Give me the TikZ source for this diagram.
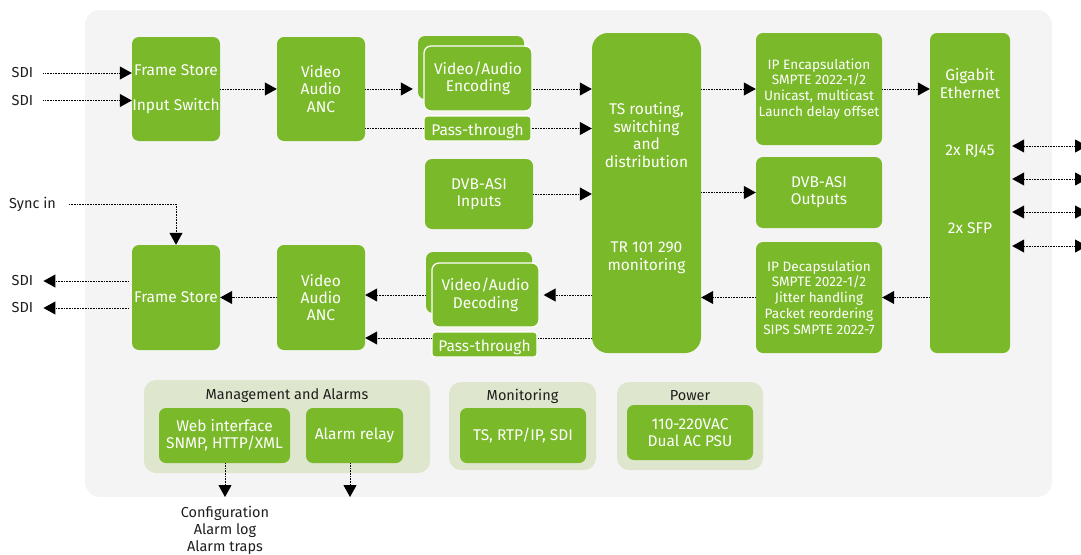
\documentclass[tikz,border=0pt]{standalone}
\usepackage{fontspec}
\setmainfont{Fira Sans}
\usepackage{xcolor}
\usetikzlibrary{arrows.meta,calc,positioning}
\definecolor{gbox}{HTML}{7AB929}
\definecolor{gpanel}{HTML}{DEE6CD}
\definecolor{bgray}{HTML}{F4F4F4}
\definecolor{txtdark}{HTML}{1E1E1E}
\tikzset{
	blk/.style={fill=gbox,rounded corners=7pt,text=white,align=center,inner sep=0pt,font=\fontsize{15.5}{17.4}\selectfont},
	blkw/.style={blk,draw=white,line width=1.3pt},
	passthru/.style={blkw,rounded corners=3pt,minimum height=25,text height=13pt,text depth=0pt},
	blksmall/.style={blk,font=\fontsize{13.6}{15.8}\selectfont},
	wtxt/.style={text=white,align=center,inner sep=0pt,font=\fontsize{15.5}{17.4}\selectfont},
	panel/.style={fill=gpanel,rounded corners=12pt},
	lbl/.style={text=txtdark,align=center,inner sep=0pt,font=\fontsize{14.5}{17}\selectfont},
	dots/.style={line width=1pt,dash pattern=on 0.8pt off 0.8pt,-{Triangle[length=12pt,width=13pt]}},
	bidots/.style={dots,{Triangle[length=12pt,width=13pt]}-{Triangle[length=12pt,width=13pt]}},
	plain/.style={line width=1pt,dash pattern=on 0.8pt off 0.8pt}
}
\begin{document}
\begin{tikzpicture}[x=1pt,y=-1pt]
		\useasboundingbox (0,0) rectangle (1081,554);
		\fill[bgray,rounded corners=15pt] (85,10) rectangle (1052,497);
		
		\node[blk,minimum width=88,minimum height=104] (fsin) at (176,89) {Frame Store\\[17.6pt]Input Switch};
		\node[blk,minimum width=88,minimum height=104] (vaatop) at (321,89) {Video\\Audio\\ANC};
		\node[blk,minimum width=106,minimum height=63] (encback) at (471,67.5) {};
		\node[blkw,minimum width=108,minimum height=65] (enc) at (478,78.5) {Video/Audio\\Encoding};
		\node[passthru,minimum width=107] (passtop) at (477.5,128.5) {Pass-through};
		\node[blk,minimum width=108,minimum height=70] (asiin) at (479,194) {DVB-ASI\\Inputs};
		
		\node[blk,minimum width=109,minimum height=320,rounded corners=16pt] (ts) at (646.5,193) {};
		\node[wtxt] (tsup) at (646.5,135) {TS routing,\\switching\\and\\distribution};
		\node[wtxt] (tsdown) at (646.5,258) {TR 101 290\\monitoring};
		
		\node[blksmall,minimum width=126,minimum height=112] (ipenc) at (819,89) {IP Encapsulation\\SMPTE 2022-1/2\\Unicast, multicast\\Launch delay offset};
		\node[blk,minimum width=126,minimum height=71] (asiout) at (819,192.5) {DVB-ASI\\Outputs};
		\node[blksmall,minimum width=126,minimum height=111] (ipdec) at (819,297.5) {IP Decapsulation\\SMPTE 2022-1/2\\Jitter handling\\Packet reordering\\SIPS SMPTE 2022-7};
		
		\node[blk,minimum width=80,minimum height=320] (gbe) at (970,193) {};
		\node[wtxt] (gbename) at (970,83.5) {Gigabit\\Ethernet};
		\node[wtxt] (rj) at (970,151) {2x RJ45};
		\node[wtxt] (sfp) at (970,228) {2x SFP};
		
		\node[blk,minimum width=106,minimum height=61] (decback) at (479,282.5) {};
		\node[blkw,minimum width=107,minimum height=64] (dec) at (485.5,295) {Video/Audio\\Decoding};
		\node[passthru,minimum width=105] (passbot) at (484.5,344.5) {Pass-through};
		\node[blk,minimum width=88,minimum height=105] (vaabot) at (321,297.5) {Video\\Audio\\ANC};
		\node[blk,minimum width=88,minimum height=105] (fsout) at (176,297.5) {Frame Store};
		
		\node[lbl] (sdi1) at (22.5,73) {SDI};
		\node[lbl] (sdi2) at (22.5,100.5) {SDI};
		\node[lbl] (sync) at (32.5,204) {Sync in};
		\node[lbl] (sdo1) at (22.5,281) {SDI};
		\node[lbl] (sdo2) at (22.5,308) {SDI};
		
		\node[panel,minimum width=286,minimum height=93] (mgmt) at (287,426.5) {};
		\node[lbl] (mgmttitle) at (287,396) {Management and Alarms};
		\node[blk,minimum width=131,minimum height=55] (web) at (224.5,435.5) {Web interface\\SNMP, HTTP/XML};
		\node[blk,minimum width=97,minimum height=55] (relay) at (354.5,435.5) {Alarm relay};
		
		\node[panel,minimum width=147,minimum height=88] (monp) at (522.5,426) {};
		\node[lbl] (montitle) at (522.5,396) {Monitoring};
		\node[blk,minimum width=126,minimum height=55] (moni) at (523,435.5) {TS, RTP/IP, SDI};
		
		\node[panel,minimum width=146,minimum height=88] (powp) at (690,426) {};
		\node[lbl] (powtitle) at (690,396) {Power};
		\node[blk,minimum width=126,minimum height=55] (pow) at (690,432.5) {110-220VAC\\Dual AC PSU};
		
		\node[lbl] (cfg) at (225,530) {Configuration\\Alarm log\\Alarm traps};
		\coordinate (webout) at (225,497);
		\coordinate (relayout) at (350,497);
		\coordinate (p1) at (1087,146);
		\coordinate (p2) at (1087,179);
		\coordinate (p3) at (1087,212);
		\coordinate (p4) at (1087,246);
		
		\draw[dots] ([xshift=10pt]sdi1.east) -- (fsin.west |- sdi1.east);
		\draw[dots] ([xshift=10pt]sdi2.east) -- (fsin.west |- sdi2.east);
		\draw[dots] (fsin.east) -- (vaatop.west);
		\draw[dots,shorten >=5pt] (vaatop.east) -- (encback.west |- vaatop.east);
		\draw[plain] (vaatop.east |- passtop.west) -- (passtop.west);
		\draw[dots] (passtop.east) -- (ts.west |- passtop.east);
		\draw[dots] (enc.east |- vaatop.east) -- (ts.west |- vaatop.east);
		\draw[dots] (asiin.east) -- (ts.west |- asiin.east);
		\draw[dots] (ts.east |- ipenc.west) -- (ipenc.west);
		\draw[dots] (ipenc.east) -- (gbe.west |- ipenc.east);
		\draw[dots] (ts.east |- asiout.west) -- (asiout.west);
		\draw[dots] (gbe.west |- ipdec.east) -- (ipdec.east);
		\draw[dots] (ipdec.west) -- (ts.east |- ipdec.west);
		
		\draw[dots,shorten >=4pt] (ts.west |- dec.east) -- (dec.east);
		\draw[dots] (decback.west |- dec.west) -- (vaabot.east |- dec.west);
		\draw[plain] (ts.west |- 0,338) -- ([yshift=6.5pt]passbot.east);
		\draw[dots] ([yshift=6.5pt]passbot.west) -- (vaabot.east |- 0,338);
		\draw[dots] (vaabot.west) -- (fsout.east);
		\draw[dots] ([xshift=13pt]sync.east) -| (fsout.north);
		\draw[dots] ([xshift=-3pt]fsout.west |- sdo1.east) -- ([xshift=10pt]sdo1.east);
		\draw[dots] ([xshift=-3pt]fsout.west |- sdo2.east) -- ([xshift=10pt]sdo2.east);
		
		\draw[bidots] ([xshift=2pt]gbe.east |- p1) -- (p1);
		\draw[bidots] ([xshift=2pt]gbe.east |- p2) -- (p2);
		\draw[bidots] ([xshift=2pt]gbe.east |- p3) -- (p3);
		\draw[bidots] ([xshift=2pt]gbe.east |- p4) -- (p4);
		
		\draw[dots] (web.south -| webout) -- (webout);
		\draw[dots] (relay.south -| relayout) -- (relayout);
	\end{tikzpicture}
\end{document}
